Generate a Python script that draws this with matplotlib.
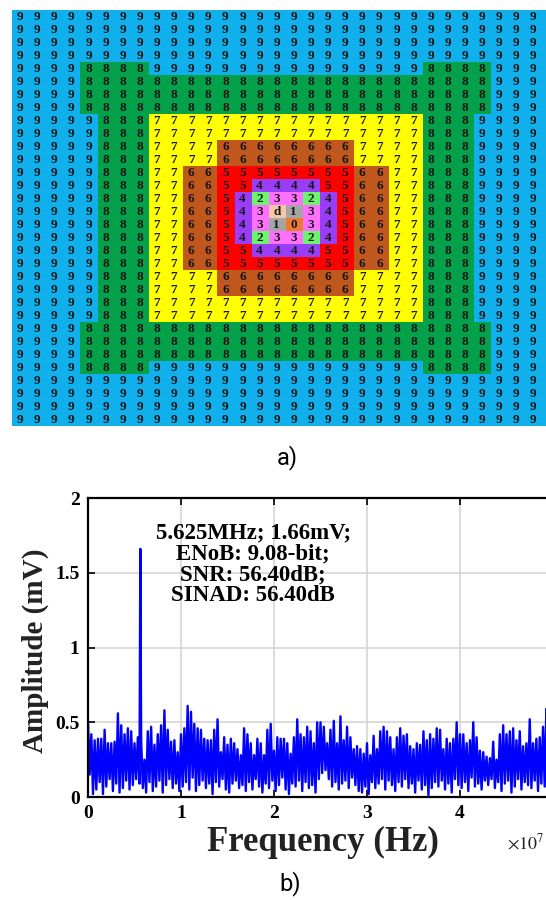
import numpy as np
import matplotlib
matplotlib.use('Agg')
import matplotlib.pyplot as plt
from matplotlib.colors import ListedColormap

plt.rcParams['font.family'] = ['Liberation Serif', 'DejaVu Serif']
plt.rcParams['mathtext.fontset'] = 'stix'

# a) level map, one string per row ('d' marks the special cell)
grid_rows = [
    "99999999999999999999999999999999",
    "99999999999999999999999999999999",
    "99999999999999999999999999999999",
    "99999999999999999999999999999999",
    "99998888999999999999999988889999",
    "99998888888888888888888888889999",
    "99998888888888888888888888889999",
    "99998888888888888888888888889999",
    "99999888777777777777777788899999",
    "99999888777777777777777788899999",
    "99999888777766666666777788899999",
    "99999888777766666666777788899999",
    "99999888776655555555667788899999",
    "99999888776655444455667788899999",
    "99999888776654233245667788899999",
    "999998887766543d1345667788899999",
    "99999888776654310345667788899999",
    "99999888776654233245667788899999",
    "99999888776655444455667788899999",
    "99999888776655555555667788899999",
    "99999888777766666666777788899999",
    "99999888777766666666777788899999",
    "99999888777777777777777788899999",
    "99999888777777777777777788899999",
    "99998888888888888888888888889999",
    "99998888888888888888888888889999",
    "99998888888888888888888888889999",
    "99998888999999999999999988889999",
    "99999999999999999999999999999999",
    "99999999999999999999999999999999",
    "99999999999999999999999999999999",
    "99999999999999999999999999999999",
]
level_keys = ['0', '1', 'd', '2', '3', '4', '5', '6', '7', '8', '9']
level_colors = ['#EE7A30', '#A5A5A5', '#F6C7A4', '#6AF56A', '#FF70FF', '#9A3DF7',
                '#FF0000', '#C0581E', '#FFFF00', '#05A04A', '#0FB0EC']

# b) spectrum
peak_freq = 5.625e6
peak_amp = 1.66
noise_top = [
    0.50, 0.42, 0.38, 0.39, 0.39, 0.45, 0.36, 0.36, 0.37, 0.56, 0.48, 0.42, 0.46, 0.44, 0.36,
    0.40, 0.38, 0.25, 0.44, 0.47, 0.35, 0.42, 0.48, 0.58, 0.45, 0.37, 0.38, 0.30, 0.42, 0.46,
    0.61, 0.57, 0.49, 0.46, 0.45,
    0.39, 0.38, 0.38, 0.45, 0.52, 0.30, 0.40, 0.35, 0.39, 0.36, 0.32, 0.28, 0.46, 0.42, 0.36,
    0.28, 0.39, 0.36, 0.28, 0.45, 0.49, 0.31, 0.40, 0.39, 0.39, 0.36, 0.29, 0.40, 0.52, 0.42,
    0.40, 0.47, 0.44, 0.36, 0.50,
    0.50, 0.47, 0.36, 0.45, 0.51, 0.36, 0.54, 0.38, 0.47, 0.40, 0.32, 0.34, 0.32, 0.29, 0.36,
    0.28, 0.41, 0.32, 0.44, 0.47, 0.44, 0.40, 0.32, 0.40, 0.46, 0.41, 0.42, 0.34, 0.32, 0.36,
    0.35, 0.44, 0.38, 0.42, 0.39,
    0.46, 0.45, 0.32, 0.39, 0.36, 0.39, 0.50, 0.42, 0.42, 0.36, 0.38, 0.50, 0.40, 0.31, 0.30,
    0.27, 0.26, 0.37, 0.25, 0.42, 0.48, 0.42, 0.44, 0.46, 0.38, 0.44, 0.34, 0.36, 0.52, 0.36,
    0.39, 0.40, 0.47, 0.59, 0.40, 0.35,
]
noise_bottom = [
    0.15, 0.02, 0.05, 0.10, 0.02, 0.07, 0.12, 0.04, 0.09, 0.03, 0.06, 0.11, 0.05, 0.08, 0.12,
    0.09, 0.06, 0.03, 0.10, 0.04, 0.07, 0.11, 0.03, 0.08, 0.12, 0.06, 0.09, 0.04, 0.07, 0.10,
    0.05, 0.13, 0.04, 0.08, 0.11,
    0.06, 0.09, 0.02, 0.10, 0.07, 0.12, 0.05, 0.03, 0.09, 0.11, 0.06, 0.08, 0.04, 0.10, 0.05,
    0.12, 0.07, 0.03, 0.09, 0.06, 0.11, 0.04, 0.08, 0.13, 0.05, 0.02, 0.09, 0.07, 0.11, 0.04,
    0.10, 0.06, 0.08, 0.03, 0.12,
    0.16, 0.18, 0.12, 0.07, 0.10, 0.05, 0.09, 0.11, 0.06, 0.13, 0.08, 0.04, 0.03, 0.07, 0.02,
    0.10, 0.06, 0.09, 0.12, 0.05, 0.11, 0.08, 0.04, 0.10, 0.07, 0.12, 0.06, 0.09, 0.03, 0.11,
    0.05, 0.08, 0.01, 0.06, 0.10,
    0.07, 0.11, 0.05, 0.09, 0.03, 0.12, 0.08, 0.06, 0.10, 0.04, 0.13, 0.07, 0.09, 0.05, 0.11,
    0.08, 0.12, 0.06, 0.10, 0.04, 0.09, 0.11, 0.03, 0.07, 0.12, 0.05, 0.10, 0.08, 0.06, 0.11,
    0.04, 0.09, 0.07, 0.10, 0.08, 0.06,
]
x_ticks = [0, 1e7, 2e7, 3e7, 4e7, 5e7]
x_tick_labels = ['0', '1', '2', '3', '4', '5']
y_ticks = [0, 0.5, 1, 1.5, 2]
y_tick_labels = ['0', '0.5', '1', '1.5', '2']
note_lines = ['5.625MHz; 1.66mV;', 'ENoB: 9.08-bit;', 'SNR: 56.40dB;', 'SINAD: 56.40dB']

fig = plt.figure(figsize=(5.46, 9.0), dpi=100)

# ---- a) ----
ax1 = fig.add_axes([0.0211, 0.5267, 1.0027, 0.4622])
code = np.array([[level_keys.index(ch) for ch in row] for row in grid_rows])
ax1.imshow(code, cmap=ListedColormap(level_colors), vmin=-0.5, vmax=len(level_keys) - 0.5,
           interpolation='nearest', aspect='auto')
for r, row in enumerate(grid_rows):
    for c, ch in enumerate(row):
        if c == len(row) - 1:
            continue  # last column runs off the page, its digits don't show
        ax1.text(c, r + 0.05, ch, ha='center', va='center', fontsize=9.5,
                 fontweight='bold', color='#151515')
ax1.set_axis_off()

# ---- b) ----
ax2 = fig.add_axes([0.1612, 0.1144, 0.8516, 0.3322])
freq_top = np.linspace(0, 5e7, len(noise_top))
freq_bottom = freq_top + (freq_top[1] - freq_top[0]) / 2
freq = np.concatenate([freq_top, freq_bottom, [peak_freq]])
amp = np.concatenate([noise_top, noise_bottom, [peak_amp]])
order = np.argsort(freq)
ax2.plot(freq[order], amp[order], color='#0000FF', lw=1.7)

ax2.set_xlim(0, 5e7)
ax2.set_ylim(0, 2)
ax2.set_xticks(x_ticks)
ax2.set_xticklabels(x_tick_labels)
ax2.set_yticks(y_ticks)
ax2.set_yticklabels(y_tick_labels)
ax2.grid(True, color='#D5D5D5', lw=1.2)
ax2.set_axisbelow(True)
ax2.tick_params(direction='in', length=5, width=1.2, top=True, right=True,
                labelsize=14, pad=6)
for lab in ax2.get_xticklabels() + ax2.get_yticklabels():
    lab.set_fontweight('bold')
for sp in ax2.spines.values():
    sp.set_linewidth(1.6)

ax2.set_xlabel('Frequency (Hz)', fontsize=25, fontweight='bold', color='#222222', va='center')
ax2.xaxis.set_label_coords(0.505, -0.151)
ax2.set_ylabel('Amplitude (mV)', fontsize=21, fontweight='bold', color='#222222', va='center')
ax2.yaxis.set_label_coords(-0.114, 0.49)

note_y = [1.767, 1.625, 1.485, 1.35]
for txt, yy in zip(note_lines, note_y):
    ax2.text(1.775e7, yy, txt, ha='center', va='center', fontsize=16.5, fontweight='bold')

fig.text(507 / 546, 1 - 843 / 900, r'$\times10^{7}$', fontsize=13, ha='left', va='center',
         color='#222222')

cap_font = ['Liberation Sans Narrow', 'Roboto', 'DejaVu Sans']
fig.text(287 / 546, 1 - 458 / 900, 'a)', fontsize=17, family=cap_font, ha='center', va='center')
fig.text(290 / 546, 1 - 884 / 900, 'b)', fontsize=17, family=cap_font, ha='center', va='center')

fig.savefig('out.png', dpi=100)
